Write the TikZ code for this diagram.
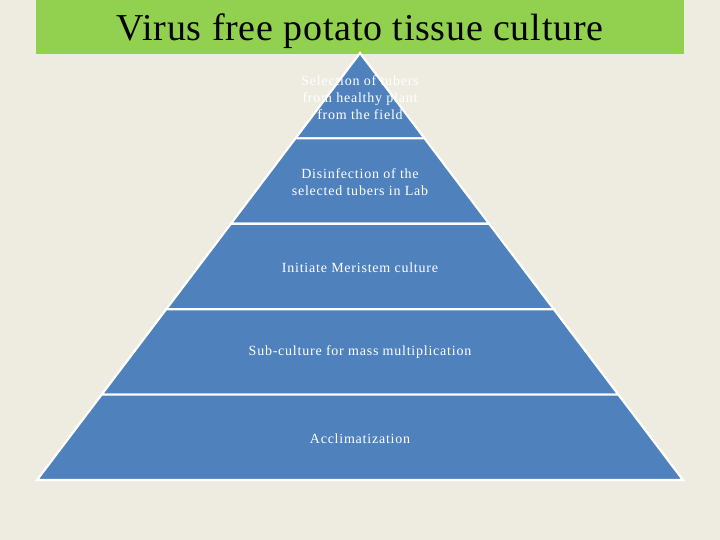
\documentclass[tikz,border=0pt]{standalone}
\usepackage{fontspec}
\setmainfont{Liberation Serif}
\newfontfamily\lblfont[LetterSpace=5.5]{Liberation Serif}
\newfontfamily\ttlfont[LetterSpace=2]{Liberation Serif}
\definecolor{bgc}{HTML}{EEECE1}
\definecolor{barc}{HTML}{92D050}
\definecolor{pyr}{HTML}{4F81BD}
\begin{document}
\begin{tikzpicture}[x=1pt,y=-1pt,
  level/.style={fill=pyr,draw=white,line width=2.2pt,line join=miter},
  lbl/.style={text=white,font=\lblfont\fontsize{14}{17}\selectfont,align=center,inner sep=0pt}]
\fill[bgc] (0,0) rectangle (720,540);
\useasboundingbox (0,0) rectangle (720,540);
\fill[barc] (36,0) rectangle (684,54);
\node[font=\ttlfont\fontsize{38}{40}\selectfont,inner sep=0pt,anchor=base] (title) at (360,41) {Virus free potato tissue culture};
% pyramid: apex (360,53), base y=480, half-width 323
\foreach \i in {0,...,4}{
  \pgfmathsetmacro{\ta}{53+85.4*\i}
  \pgfmathsetmacro{\tb}{53+85.4*(\i+1)}
  \pgfmathsetmacro{\wa}{64.6*\i}
  \pgfmathsetmacro{\wb}{64.6*(\i+1)}
  \draw[level] (360-\wa,\ta) -- (360+\wa,\ta) -- (360+\wb,\tb) -- (360-\wb,\tb) -- cycle;
}
\node[lbl] (l1) at (360,97.5) {Selection of tubers\\from healthy plant\\from the field};
\node[lbl] (l2) at (360,182) {Disinfection of the\\selected tubers in Lab};
\node[lbl] (l3) at (360,267.5) {Initiate Meristem culture};
\node[lbl] (l4) at (360,352.5) {Sub-culture for mass multiplication};
\node[lbl] (l5) at (360,438.5) {Acclimatization};
\end{tikzpicture}
\end{document}
